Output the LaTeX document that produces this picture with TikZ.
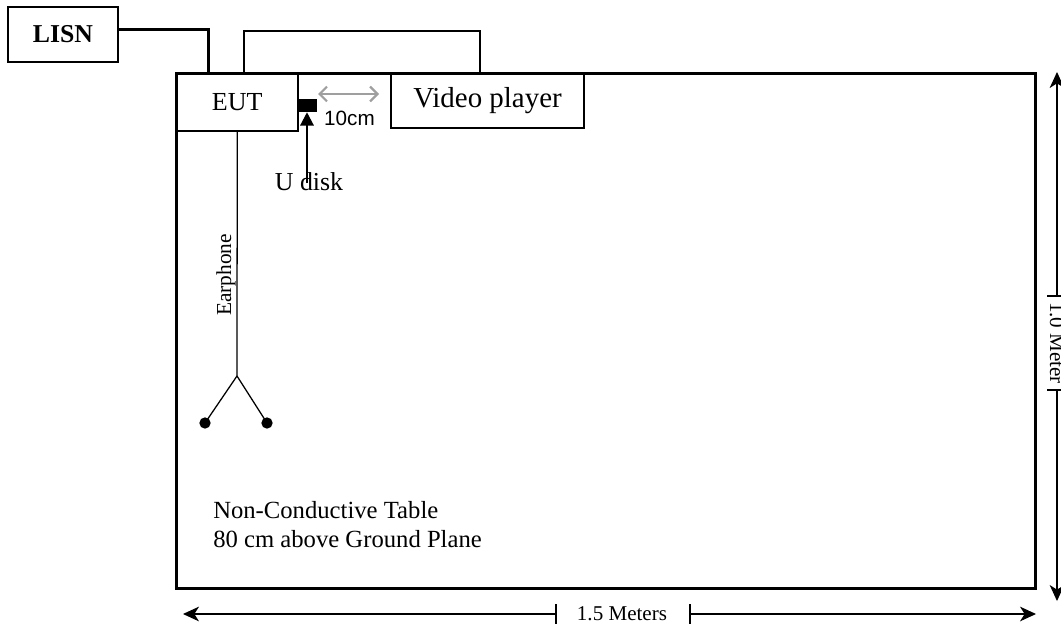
\documentclass[tikz,border=0pt]{standalone}
\usepackage{fontspec}
\setmainfont{Liberation Serif}
\setsansfont{Liberation Sans}
\usetikzlibrary{arrows.meta}
\begin{document}
\begin{tikzpicture}[x=0.75pt,y=-0.75pt,
  box/.style={draw,line width=1.1pt,inner sep=0pt,align=center},
  thick wire/.style={line width=2.25pt},
  thin wire/.style={line width=0.95pt},
  dimline/.style={line width=0.8pt},
  dimtip/.style={-{Stealth[length=12pt,width=11pt,inset=3.5pt]}},
  dot/.style={circle,fill,inner sep=0pt,minimum size=8.5pt},
  lbl/.style={inner sep=0pt}]
\useasboundingbox (0,0) rectangle (1061,628);
% table
\node[draw,line width=2.25pt,minimum width=643.9pt,minimum height=386.25pt,inner sep=0pt] (table) at (605.75,331) {};
% LISN
\node[box,minimum width=82.5pt,minimum height=41.25pt,font=\fontsize{19.3}{22}\selectfont\bfseries] (lisn) at (63,34.5) {LISN};
% EUT
\node[box,fill=white,minimum width=91.1pt,minimum height=43.1pt,font=\fontsize{19.5}{22}\selectfont] (eut) at (237.25,102.25) {EUT};
\draw[line width=2.25pt] (176.5,73.5) -- (298,73.5);
\draw[line width=2.25pt] (176.5,73.5) -- (176.5,131);
% Video player
\node[box,minimum width=144.75pt,minimum height=40.5pt,font=\fontsize{21.7}{24}\selectfont] (video) at (487.5,101) {Video player};
% USB disk
\node[fill=black,inner sep=0pt,minimum width=14.25pt,minimum height=9.75pt] (usb) at (307.5,105.5) {};
\node[lbl,anchor=base,font=\fontsize{19.4}{22}\selectfont] (udisk) at (309,190) {U disk};
\coordinate (ua) at (307,183);
\draw[line width=1.6pt,-{Triangle[length=10pt,width=10pt]}] (ua) -- (usb.south -| ua);
% 10 cm gap
\coordinate (ga) at (318,94);
\coordinate (gb) at (379,94);
\draw[line width=1.7pt,gray!75,{Straight Barb[length=5.5pt,width=11pt]}-{Straight Barb[length=5.5pt,width=11pt]}] (ga) -- (gb);
\node[lbl,font=\sffamily\fontsize{15.5}{18}\selectfont] (tencm) at (349.5,118) {10cm};
% LISN wire
\coordinate (lw) at (208,73.5);
\draw[thick wire] ([yshift=4.1pt]lisn.east) -| (lw);
% loop wire between EUT and video player
\coordinate (la) at (244,73.5);
\coordinate (lb) at (480,73.5);
\draw[thin wire] (la) -- (244,31) -- (480,31) -- (lb);
% earphone
\coordinate (ej) at (237,376);
\node[dot] (ep1) at (205,423) {};
\node[dot] (ep2) at (267,423) {};
\draw[thin wire] (eut.south) -- (ej);
\draw[thin wire] (ej) -- (ep1.center);
\draw[thin wire] (ej) -- (ep2.center);
\node[lbl,rotate=90,font=\fontsize{16}{18}\selectfont] (earph) at (226,275) {Earphone};
% table label
\node[lbl,anchor=base west,align=left,font=\fontsize{18.5}{21.75}\selectfont] (tlbl) at (213,547) {Non-Conductive Table\\80 cm above Ground Plane};
% horizontal dimension
\coordinate (hl) at (183,614);
\coordinate (hr) at (1036,614);
\coordinate (ht1) at (556,614);
\coordinate (ht2) at (690,614);
\draw[dimline,dimtip] (ht1) -- (hl);
\draw[dimline,dimtip] (ht2) -- (hr);
\draw[dimline] (556,604) -- (556,624);
\draw[dimline] (690,604) -- (690,624);
\node[lbl,anchor=base,font=\fontsize{15.8}{18}\selectfont] (hlbl) at (622,620) {1.5 Meters};
% vertical dimension
\coordinate (vt) at (1057,72);
\coordinate (vb) at (1057,601);
\coordinate (vt1) at (1057,296);
\coordinate (vt2) at (1057,390);
\draw[dimline,dimtip] (vt1) -- (vt);
\draw[dimline,dimtip] (vt2) -- (vb);
\draw[dimline] (1047,296) -- (1067,296);
\draw[dimline] (1047,390) -- (1067,390);
\node[lbl,anchor=base,rotate=-90,font=\fontsize{15.8}{18}\selectfont] (vlbl) at (1050,343) {1.0 Meter};
\end{tikzpicture}
\end{document}
